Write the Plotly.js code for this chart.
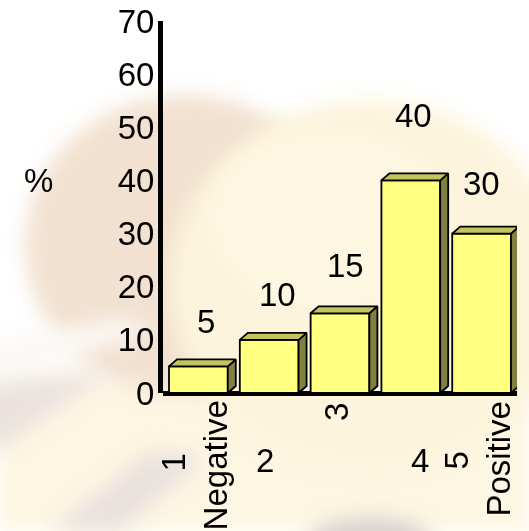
<!DOCTYPE html>
<html>
<head>
<meta charset="utf-8">
<script src="https://cdn.plot.ly/plotly-3.0.1.min.js"></script>
<style>
  html, body { margin: 0; padding: 0; background: #fff; }
  #wrap { position: relative; width: 529px; height: 531px; overflow: hidden; }
  #bg { position: absolute; left: 0; top: 0; }
  #chart { position: absolute; left: 0; top: 0; width: 529px; height: 531px; }
</style>
</head>
<body>
<div id="wrap">
  <canvas id="bg" width="529" height="531"></canvas>
  <div id="chart"></div>
</div>
<script>
// Survey answers on a 1 (negative) to 5 (positive) scale, share of respondents in %
const categories = [0, 1, 2, 3, 4];
const tickLabels = [['1', 'Negative'], ['2'], ['3'], ['4'], ['5', 'Positive']];
const percents = [5, 10, 15, 40, 30];
const axisTitle = '%';
const yTicks = [0, 10, 20, 30, 40, 50, 60, 70];

// ---- soft slide backdrop behind the chart ----
(function drawBackdrop() {
  const ctx = document.getElementById('bg').getContext('2d');
  ctx.fillStyle = '#ffffff';
  ctx.fillRect(0, 0, 529, 531);
  ctx.filter = 'blur(10px)';

  function ellipse(cx, cy, rx, ry, color) {
    ctx.fillStyle = color;
    ctx.beginPath();
    ctx.ellipse(cx, cy, rx, ry, 0, 0, Math.PI * 2);
    ctx.fill();
  }
  function poly(pts, color) {
    ctx.fillStyle = color;
    ctx.beginPath();
    ctx.moveTo(pts[0][0], pts[0][1]);
    for (let k = 1; k < pts.length; k++) ctx.lineTo(pts[k][0], pts[k][1]);
    ctx.closePath();
    ctx.fill();
  }

  // warm lower band
  poly([[0, 380], [529, 360], [529, 531], [0, 531]], '#fdf6e2');
  // peach sphere on the left
  ellipse(185, 245, 160, 150, '#f2e1d0');
  // lighter cream sphere overlapping it
  ellipse(370, 285, 200, 185, '#fcf4dc');
  ellipse(330, 220, 120, 90, '#fdf7e2');
  // white sweep at the left
  poly([[-20, 345], [120, 318], [160, 330], [-20, 385]], '#fbf8f4');
  // lavender streaks in the lower left
  poly([[-20, 385], [110, 370], [0, 450], [-20, 450]], '#ebe2e0');
  poly([[150, 452], [205, 458], [120, 531], [50, 531]], '#e9e0de');
  // grey blob at the bottom
  ellipse(370, 540, 60, 22, '#d8cfcd');
  ctx.filter = 'none';
})();

// ---- geometry of the pseudo-3D bars ----
const W = 529, H = 531;
const margin = { l: 163, r: 12, t: 21, b: 138 };
const plotW = W - margin.l - margin.r;
const plotH = H - margin.t - margin.b;
const xRange = [-0.5, 4.5];
const yRange = [0, 70];
const pxPerCat = plotW / (xRange[1] - xRange[0]);
const pxPerUnit = plotH / (yRange[1] - yRange[0]);
const barWidth = 0.83;
const depthX = 8 / pxPerCat;     // receding offset, converted to axis units
const depthY = 7 / pxPerUnit;

const FONT = 'Liberation Sans, Arial, sans-serif';
const FSIZE = 33;
const FRONT = '#ffff80', SIDE = '#808040', TOP = '#c4c45e';

// side faces and top faces as closed polygons, separated by gaps
const sideX = [], sideY = [], topX = [], topY = [];
categories.forEach((c, i) => {
  const v = percents[i];
  const xl = c - barWidth / 2, xr = c + barWidth / 2;
  sideX.push(xr, xr, xr + depthX, xr + depthX, xr, null);
  sideY.push(0, v, v + depthY, depthY, 0, null);
  topX.push(xl, xl + depthX, xr + depthX, xr, xl, null);
  topY.push(v, v + depthY, v + depthY, v, v, null);
});

const traces = [
  {
    type: 'bar', x: categories, y: percents, width: barWidth,
    marker: { color: FRONT, line: { color: '#000', width: 1.8 } },
    hoverinfo: 'skip'
  },
  {
    type: 'scatter', mode: 'lines', x: sideX, y: sideY, fill: 'toself',
    fillcolor: SIDE, line: { color: '#000', width: 1.8 }, hoverinfo: 'skip'
  },
  {
    type: 'scatter', mode: 'lines', x: topX, y: topY, fill: 'toself',
    fillcolor: TOP, line: { color: '#000', width: 1.8 }, hoverinfo: 'skip'
  },
  {
    // right edge of the floor
    type: 'scatter', mode: 'lines',
    x: [xRange[1], xRange[1] + depthX * 1.1], y: [0, depthY * 1.1],
    line: { color: '#000', width: 4 }, hoverinfo: 'skip', cliponaxis: false
  }
];

const annotations = [];

// value labels above each bar
const valueShiftX = [8, 8, 5, 3, 0];
const valueShiftY = [45, 45, 48, 65, 50];
categories.forEach((c, i) => {
  annotations.push({
    x: c, y: percents[i], xref: 'x', yref: 'y', text: String(percents[i]),
    showarrow: false, xanchor: 'center', yanchor: 'middle',
    xshift: valueShiftX[i], yshift: valueShiftY[i],
    font: { family: FONT, size: FSIZE, color: '#000' }
  });
});

// category labels: [category, part, rotated, xshift, yshift]
const labelPlacement = [
  [0, 0, true, -25, -69],
  [0, 1, true, 17, -72],
  [1, 0, false, -4, -67],
  [2, 0, true, -4, -19],
  [3, 0, false, 9, -67],
  [4, 0, true, -26, -68],
  [4, 1, true, 16, -66]
];
labelPlacement.forEach(([ci, part, rot, sx, sy]) => {
  annotations.push({
    x: categories[ci], y: 0, xref: 'x', yref: 'y', text: tickLabels[ci][part],
    showarrow: false, xanchor: 'center', yanchor: 'middle',
    textangle: rot ? -90 : 0, xshift: sx, yshift: sy,
    font: { family: FONT, size: FSIZE, color: '#000' }
  });
});

// axis caption
annotations.push({
  x: -0.353, y: 40, xref: 'paper', yref: 'y', text: axisTitle,
  showarrow: false, xanchor: 'center', yanchor: 'middle',
  font: { family: FONT, size: FSIZE, color: '#000' }
});

const layout = {
  width: W, height: H, margin: margin,
  paper_bgcolor: 'rgba(0,0,0,0)', plot_bgcolor: 'rgba(0,0,0,0)',
  showlegend: false,
  xaxis: {
    range: xRange, showticklabels: false, showgrid: false,
    zeroline: false, showline: false, fixedrange: true
  },
  yaxis: {
    range: yRange, tickvals: yTicks, ticks: '', showgrid: false,
    showline: true, linecolor: '#000', linewidth: 5,
    zeroline: true, zerolinecolor: '#000', zerolinewidth: 5,
    ticklabelstandoff: -3,
    tickfont: { family: FONT, size: FSIZE, color: '#000' },
    fixedrange: true
  },
  annotations: annotations
};

Plotly.newPlot('chart', traces, layout, { displayModeBar: false, staticPlot: true });
</script>
</body>
</html>
